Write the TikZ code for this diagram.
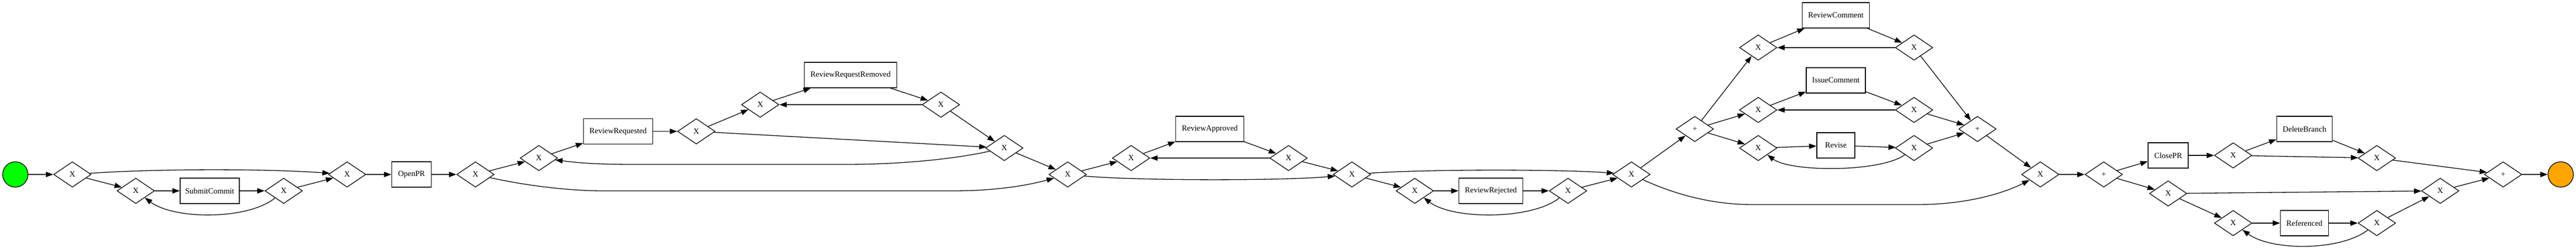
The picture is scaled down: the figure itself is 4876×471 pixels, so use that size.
\documentclass[tikz,border=0pt]{standalone}
\usepackage{fontspec}
\setmainfont{Liberation Serif}
\usetikzlibrary{shapes.geometric,arrows.meta}
\definecolor{startgreen}{RGB}{0,255,0}
\definecolor{endorange}{RGB}{255,165,0}
\begin{document}
\begin{tikzpicture}[x=1pt,y=-1pt,
  gw/.style={diamond, draw, line width=1.3pt, minimum width=71pt, minimum height=48pt, inner sep=0pt, font=\fontsize{15}{18}\selectfont},
  task/.style={rectangle, draw, line width=1.3pt, minimum height=48pt, inner sep=0pt, font=\fontsize{15}{18}\selectfont},
  ev/.style={circle, draw, line width=1.3pt, minimum size=48pt, inner sep=0pt},
  arr/.style={line width=1.3pt, -{Triangle[length=14pt,width=10pt]}}]
\useasboundingbox (0,0) rectangle (4876,471);
% nodes
\node[ev, fill=startgreen] (start) at (29,330) {};
\node[gw] (g1) at (137,330) {X};
\node[gw] (g2) at (257,361) {X};
\node[task, minimum width=112pt] (submit) at (397,361) {SubmitCommit};
\node[gw] (g3) at (537,361) {X};
\node[gw] (g4) at (657,330) {X};
\node[task, minimum width=75pt] (openpr) at (779,330) {OpenPR};
\node[gw] (g5) at (900,330) {X};
\node[gw] (g6) at (1020,299) {X};
\node[task, minimum width=131pt] (revreq) at (1170,248.5) {ReviewRequested};
\node[gw] (g7) at (1318,248.5) {X};
\node[gw] (g8) at (1439,198) {X};
\node[task, minimum width=175pt] (rrr) at (1610,142) {ReviewRequestRemoved};
\node[gw] (g9) at (1781,198) {X};
\node[gw] (g10) at (1901,280) {X};
\node[gw] (g11) at (2021,330) {X};
\node[gw] (g12) at (2141,299) {X};
\node[task, minimum width=129pt] (revapp) at (2290,244) {ReviewApproved};
\node[gw] (g13) at (2439,299) {X};
\node[gw] (g14) at (2559,330) {X};
\node[gw] (g15) at (2678,361) {X};
\node[task, minimum width=121pt] (revrej) at (2822,361) {ReviewRejected};
\node[gw] (g16) at (2968,361) {X};
\node[gw] (g17) at (3088,330) {X};
\node[gw] (and1) at (3208,244) {+};
\node[gw] (g18) at (3328,90) {X};
\node[task, minimum width=127pt] (revcom) at (3475,29) {ReviewComment};
\node[gw] (g22) at (3623,90) {X};
\node[gw] (g19) at (3328,208) {X};
\node[task, minimum width=112pt] (isscom) at (3475,152) {IssueComment};
\node[gw] (g23) at (3623,208) {X};
\node[gw] (g20) at (3328,280) {X};
\node[task, minimum width=72pt] (revise) at (3475,275) {Revise};
\node[gw] (g24) at (3623,280) {X};
\node[gw] (and2) at (3743,244) {+};
\node[gw] (g21) at (3862,330) {X};
\node[gw] (and3) at (3982,330) {+};
\node[task, minimum width=76pt] (closepr) at (4104,294) {ClosePR};
\node[gw] (g25) at (4227,294) {X};
\node[task, minimum width=105pt] (delbr) at (4362,244) {DeleteBranch};
\node[gw] (g26) at (4499,299) {X};
\node[gw] (g27) at (4104,366) {X};
\node[gw] (g28) at (4227,422) {X};
\node[task, minimum width=91pt] (refd) at (4362,422) {Referenced};
\node[gw] (g29) at (4499,422) {X};
\node[gw] (g30) at (4619,361) {X};
\node[gw] (and4) at (4738,330) {+};
\node[ev, fill=endorange] (finish) at (4847,330) {};
% edges
\draw[arr] (start) -- (g1);
\draw[arr] (g1) .. controls (300,319) and (500,319) .. (g4);
\draw[arr] (g1) -- (g2);
\draw[arr] (g2) -- (submit);
\draw[arr] (submit) -- (g3);
\draw[arr] (g3) -- (g4);
\draw[arr] (g3) .. controls (470,416) and (330,416) .. (g2);
\draw[arr] (g4) -- (openpr);
\draw[arr] (openpr) -- (g5);
\draw[arr] (g5) -- (g6);
\draw[arr] (g6) -- (revreq);
\draw[arr] (revreq) -- (g7);
\draw[arr] (g10) .. controls (1800,302) and (1700,311) .. (1600,311) -- (1200,311) .. controls (1110,311) and (1080,306) .. (g6);
\draw[arr] (g5) .. controls (1000,352) and (1080,361) .. (1141,361) -- (1804,361) .. controls (1880,361) and (1940,352) .. (g11);
\draw[arr] (g7) -- (g8);
\draw[arr] (g8) -- (rrr);
\draw[arr] (rrr) -- (g9);
\draw[arr] (g9) -- (g8);
\draw[arr] (g9) -- (g10);
\draw[arr] (g7) -- (g10);
\draw[arr] (g10) -- (g11);
\draw[arr] (g11) -- (g12);
\draw[arr] (g12) -- (revapp);
\draw[arr] (revapp) -- (g13);
\draw[arr] (g13) -- (g12);
\draw[arr] (g13) -- (g14);
\draw[arr] (g11) .. controls (2150,342) and (2430,342) .. (g14);
\draw[arr] (g14) .. controls (2700,320) and (2950,320) .. (g17);
\draw[arr] (g14) -- (g15);
\draw[arr] (g15) -- (revrej);
\draw[arr] (revrej) -- (g16);
\draw[arr] (g16) .. controls (2900,416) and (2750,416) .. (g15);
\draw[arr] (g16) -- (g17);
\draw[arr] (g17) -- (and1);
\draw[arr] (g17) .. controls (3180,372) and (3250,387) .. (3317,387) -- (3629,387) .. controls (3730,387) and (3800,362) .. (g21);
\draw[arr] (and1) -- (g18);
\draw[arr] (and1) -- (g19);
\draw[arr] (and1) -- (g20);
\draw[arr] (g18) -- (revcom);
\draw[arr] (revcom) -- (g22);
\draw[arr] (g22) -- (g18);
\draw[arr] (g22) -- (and2);
\draw[arr] (g19) -- (isscom);
\draw[arr] (isscom) -- (g23);
\draw[arr] (g23) -- (g19);
\draw[arr] (g23) -- (and2);
\draw[arr] (g20) -- (revise);
\draw[arr] (revise) -- (g24);
\draw[arr] (g24) .. controls (3560,326) and (3390,326) .. (g20);
\draw[arr] (g24) -- (and2);
\draw[arr] (and2) -- (g21);
\draw[arr] (g21) -- (and3);
\draw[arr] (and3) -- (closepr);
\draw[arr] (closepr) -- (g25);
\draw[arr] (g25) -- (delbr);
\draw[arr] (delbr) -- (g26);
\draw[arr] (g25) -- (g26);
\draw[arr] (g26) -- (and4);
\draw[arr] (and3) -- (g27);
\draw[arr] (g27) -- (g30);
\draw[arr] (g27) -- (g28);
\draw[arr] (g28) -- (refd);
\draw[arr] (refd) -- (g29);
\draw[arr] (g29) .. controls (4430,475) and (4300,475) .. (g28);
\draw[arr] (g29) -- (g30);
\draw[arr] (g30) -- (and4);
\draw[arr] (and4) -- (finish);
\end{tikzpicture}
\end{document}
